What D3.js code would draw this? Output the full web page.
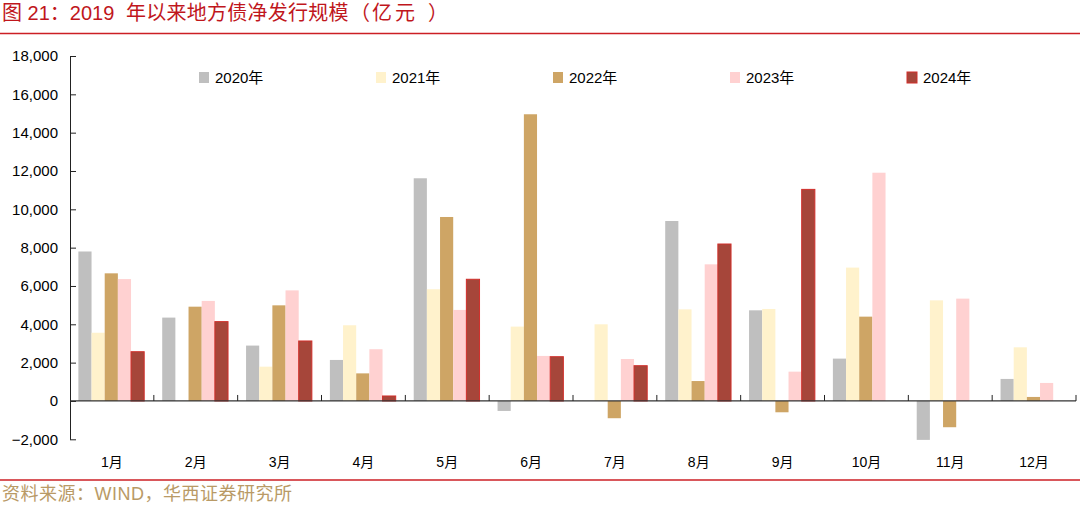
<!DOCTYPE html>
<html><head><meta charset="utf-8">
<script src="https://cdn.jsdelivr.net/npm/d3@7"></script>
<style>
html,body{margin:0;padding:0;background:#fff;}
svg{display:block;}
</style></head>
<body>
<script>
const months = ["1月","2月","3月","4月","5月","6月","7月","8月","9月","10月","11月","12月"];
const seriesNames = ["2020年","2021年","2022年","2023年","2024年"];
const v2020 = [7800, 4350, 2890, 2140, 11620, -520, 0, 9390, 4730, 2210, -2030, 1150];
const v2021 = [3560, 0, 1790, 3950, 5830, 3880, 4000, 4780, 4800, 6960, 5250, 2800];
const v2022 = [6660, 4920, 4990, 1440, 9600, 14960, -900, 1040, -590, 4400, -1370, 210];
const v2023 = [6360, 5220, 5770, 2700, 4750, 2350, 2190, 7130, 1530, 11910, 5340, 940];
const v2024 = [2570, 4140, 3130, 260, 6350, 2310, 1840, 8190, 11040, null, null, null];
const yTicks = [-2000,0,2000,4000,6000,8000,10000,12000,14000,16000,18000];
const titleParts = ["图 21：2019", "年以来地方债净发行规模", "（", "亿元", "）"];
const source = "资料来源：WIND，华西证券研究所";

const colors = ["#bfbfbf","#fff2cc","#cea565","#ffd1d1","#a6463a"];
const strokes = [null,null,null,null,"#d12f2b"];
const allSeries = [v2020,v2021,v2022,v2023,v2024];

const W = 1080, H = 505;
const svg = d3.select("body").append("svg").attr("width",W).attr("height",H);
const font = "'Liberation Sans', Arial, sans-serif";
const cjk = "'Liberation Sans','Noto Sans CJK SC',sans-serif";

const t = svg.append("text").attr("y",20).attr("fill","#c0161c")
  .attr("font-family",cjk).attr("font-size",20);
const tpos = [[2,0],[126,0.25],[350,0],[372,3],[428,0]];
titleParts.forEach((p,i)=>{
  t.append("tspan").attr("x",tpos[i][0]).attr("letter-spacing",tpos[i][1]).text(p);
});
svg.append("line").attr("x1",0).attr("x2",W).attr("y1",33.5).attr("y2",33.5).attr("stroke","#cc1f24").attr("stroke-width",1.5);
svg.append("line").attr("x1",0).attr("x2",W).attr("y1",480).attr("y2",480).attr("stroke","#cc1f24").attr("stroke-width",1.5);
svg.append("text").attr("x",2).attr("y",500).attr("fill","#b99a66")
  .attr("font-family",cjk).attr("font-size",18).attr("letter-spacing",0.5).text(source);

const x0 = 70, x1 = 1076;
const y = d3.scaleLinear().domain([-2000,18000]).range([439.3,56]);
const x = d3.scaleBand().domain(months).range([x0,x1]).padding(0);
const xs = d3.scaleBand().domain(seriesNames).range([x.bandwidth()*0.1, x.bandwidth()*0.885]).padding(0);

const g = svg.append("g");
seriesNames.forEach((s,si)=>{
  const data = months.map((m,i)=>({m, v: allSeries[si][i]})).filter(d=>d.v!==null && d.v!==0);
  g.selectAll(null).data(data).enter().append("rect")
    .attr("x",d=>x(d.m)+xs(s))
    .attr("width",xs.bandwidth())
    .attr("y",d=>Math.min(y(d.v),y(0)))
    .attr("height",d=>Math.abs(y(d.v)-y(0)))
    .attr("fill",colors[si])
    .attr("stroke",strokes[si]||"none")
    .attr("stroke-width",strokes[si]?1:0);
});

// y axis
const yAxis = d3.axisLeft(y).tickValues(yTicks).tickFormat(d3.format(",")).tickSizeInner(-6).tickSizeOuter(0).tickPadding(12);
const ya = svg.append("g").attr("transform",`translate(${x0},0)`).call(yAxis);
ya.select(".domain").attr("stroke","#222");
ya.selectAll(".tick line").attr("stroke","#222");
ya.selectAll("text").attr("font-family",font).attr("font-size",15).attr("fill","#000");

// x axis at zero
const xa = svg.append("g").attr("transform",`translate(0,${y(0)})`);
xa.append("line").attr("x1",x0).attr("x2",x1).attr("stroke","#333").attr("stroke-width",1.2);
const bounds = months.map(m=>x(m)).concat([x1]).slice(1);
xa.selectAll(".tk").data(bounds).enter().append("line")
  .attr("x1",d=>d).attr("x2",d=>d).attr("y1",0).attr("y2",-6).attr("stroke","#222");
svg.selectAll(".ml").data(months).enter().append("text")
  .attr("x",d=>x(d)+x.bandwidth()/2).attr("y",467).attr("text-anchor","middle")
  .attr("font-family",cjk).attr("font-size",14).attr("fill","#000").text(d=>d);

// legend
const lx = d3.scaleBand().domain(seriesNames).range([199,1084]);
const lg = svg.selectAll(".lg").data(seriesNames).enter().append("g")
  .attr("transform",d=>`translate(${lx(d)},77)`);
lg.append("rect").attr("x",0).attr("y",-5).attr("width",10).attr("height",11)
  .attr("fill",(d,i)=>colors[i]).attr("stroke",(d,i)=>strokes[i]||"none");
lg.append("text").attr("x",16).attr("y",5.5).attr("font-family",cjk)
  .attr("font-size",15).attr("fill","#000").text(d=>d);
</script>
</body></html>
